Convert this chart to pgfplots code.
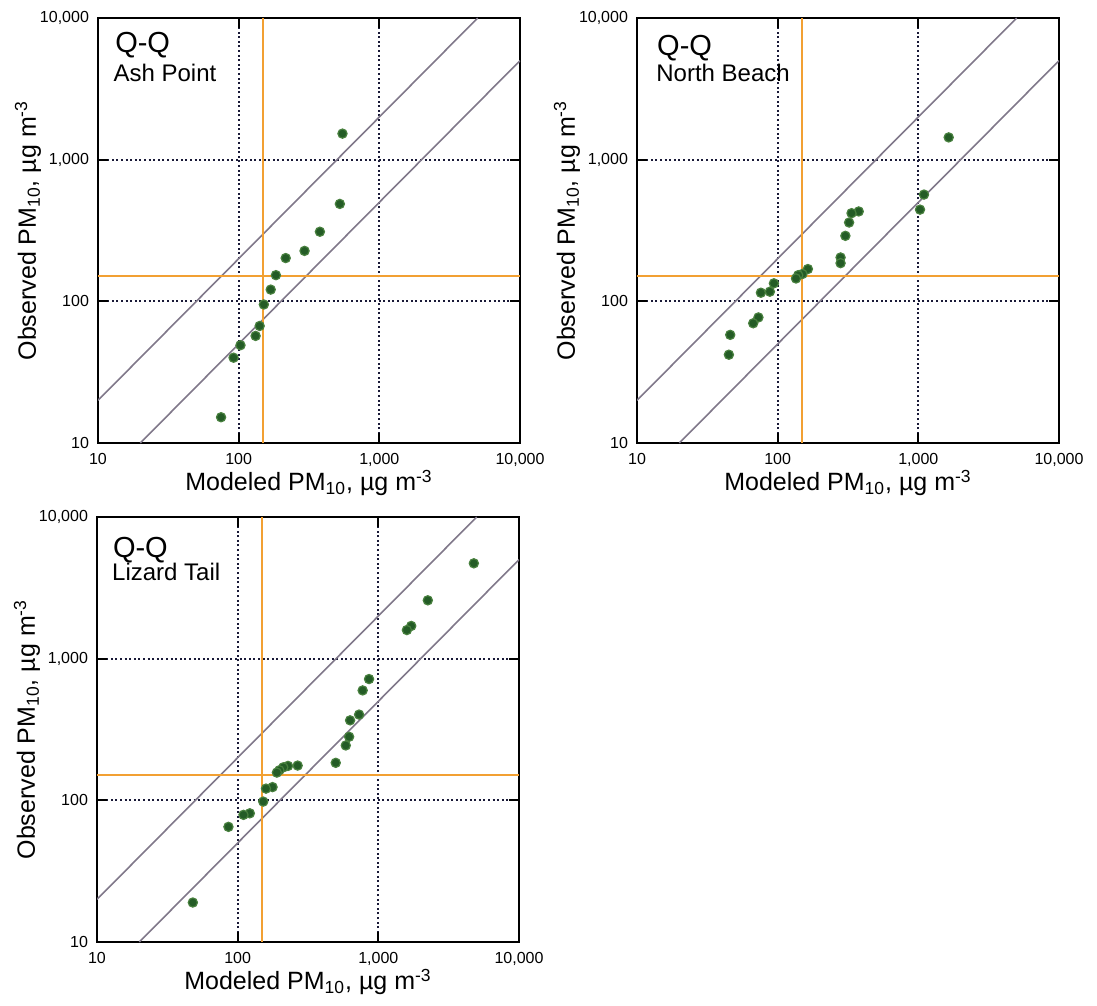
\documentclass[border=0pt]{standalone}
\usepackage{fontspec}
\setmainfont{Liberation Sans}
\usepackage{pgfplots}
\usepackage{pgfplotstable}
\pgfplotsset{compat=1.18}
\definecolor{ptfill}{RGB}{36,92,38}
\definecolor{ptdraw}{RGB}{72,128,62}
\definecolor{diagc}{RGB}{128,120,138}
\definecolor{orng}{RGB}{242,160,50}
\definecolor{gridc}{RGB}{25,25,55}

\pgfplotstableread{
x y
547 1527
524 487
378 310
294 227
216 202
184 153
169 121
151 95
141 67
132 57
103 49
92 40
75 15.2
}\ash

\pgfplotstableread{
x y
1644 1436
1097 567
1028 444
377 431
335 419
322 360
303 290
280 204
280 186
164 169
150 156
140 153
135 145
94 134
88 117
76 115
73 77
67 70
46 58
45 42
}\north

\pgfplotstableread{
x y
4775 4710
2248 2581
1714 1702
1596 1592
859 718
774 597
730 403
630 367
620 281
587 244
498 184
267 176
228 175
211 171
198 163
190 157
177 124
159 121
152 98
122 81
110 79
86 65
48 19
}\lizard

\begin{document}
\begin{tikzpicture}
\path[use as bounding box] (0,0) rectangle (548.5pt,-503pt);

\begin{axis}[at={(49pt,-221.5pt)}, anchor=south west,
  xmode=log, ymode=log, xmin=10, xmax=10000, ymin=10, ymax=10000,
  width=211pt, height=212.5pt, scale only axis,
  xtick={10,100,1000,10000}, ytick={10,100,1000,10000},
  xticklabels={10,100,{1,000},{10,000}}, yticklabels={10,100,{1,000},{10,000}},
  xminorticks=false, yminorticks=false,
  xmajorgrids, ymajorgrids,
  major grid style={gridc, line width=1pt, dash pattern=on 1pt off 1.3pt},
  major tick length=5pt, tick style={black, line width=1pt},
  axis line style={black, line width=1pt},
  tick label style={font=\fontsize{8}{9}\selectfont},
  xticklabel style={yshift=-1.5pt}, yticklabel style={xshift=-1pt},
  label style={font=\fontsize{12.5}{14}\selectfont},
  xlabel={Modeled PM\textsubscript{10}, µg m\textsuperscript{-3}},
  ylabel={Observed PM\textsubscript{10}, µg m\textsuperscript{-3}},
  xlabel style={at={(axis description cs:0.5,-0.094)}, anchor=center},
  ylabel style={at={(axis description cs:-0.166,0.5)}, anchor=center}]
\addplot[diagc, line width=0.8pt, mark=none] coordinates {(10,20) (5000,10000)};
\addplot[diagc, line width=0.8pt, mark=none] coordinates {(20,10) (10000,5000)};
\addplot[orng, line width=1pt, mark=none] coordinates {(150,10) (150,10000)};
\addplot[orng, line width=1pt, mark=none] coordinates {(10,150) (10000,150)};
\addplot[only marks, mark=*, mark size=2.3pt, mark options={fill=ptfill, draw=ptdraw, line width=0.6pt}] table[x=x,y=y] {\ash};
\node[anchor=north west, inner sep=0, font=\fontsize{14.5}{16}\selectfont] at (rel axis cs:0.04,0.967) {Q-Q};
\node[anchor=north west, inner sep=0, font=\fontsize{12}{14}\selectfont] at (rel axis cs:0.036,0.892) {Ash Point};
\end{axis}

\begin{axis}[at={(318.5pt,-221.5pt)}, anchor=south west,
  xmode=log, ymode=log, xmin=10, xmax=10000, ymin=10, ymax=10000,
  width=211pt, height=212.5pt, scale only axis,
  xtick={10,100,1000,10000}, ytick={10,100,1000,10000},
  xticklabels={10,100,{1,000},{10,000}}, yticklabels={10,100,{1,000},{10,000}},
  xminorticks=false, yminorticks=false,
  xmajorgrids, ymajorgrids,
  major grid style={gridc, line width=1pt, dash pattern=on 1pt off 1.3pt},
  major tick length=5pt, tick style={black, line width=1pt},
  axis line style={black, line width=1pt},
  tick label style={font=\fontsize{8}{9}\selectfont},
  xticklabel style={yshift=-1.5pt}, yticklabel style={xshift=-1pt},
  label style={font=\fontsize{12.5}{14}\selectfont},
  xlabel={Modeled PM\textsubscript{10}, µg m\textsuperscript{-3}},
  ylabel={Observed PM\textsubscript{10}, µg m\textsuperscript{-3}},
  xlabel style={at={(axis description cs:0.5,-0.094)}, anchor=center},
  ylabel style={at={(axis description cs:-0.166,0.5)}, anchor=center}]
\addplot[diagc, line width=0.8pt, mark=none] coordinates {(10,20) (5000,10000)};
\addplot[diagc, line width=0.8pt, mark=none] coordinates {(20,10) (10000,5000)};
\addplot[orng, line width=1pt, mark=none] coordinates {(150,10) (150,10000)};
\addplot[orng, line width=1pt, mark=none] coordinates {(10,150) (10000,150)};
\addplot[only marks, mark=*, mark size=2.3pt, mark options={fill=ptfill, draw=ptdraw, line width=0.6pt}] table[x=x,y=y] {\north};
\node[anchor=north west, inner sep=0, font=\fontsize{14.5}{16}\selectfont] at (rel axis cs:0.047,0.96) {Q-Q};
\node[anchor=north west, inner sep=0, font=\fontsize{12}{14}\selectfont] at (rel axis cs:0.045,0.892) {North Beach};
\end{axis}

\begin{axis}[at={(48.5pt,-471pt)}, anchor=south west,
  xmode=log, ymode=log, xmin=10, xmax=10000, ymin=10, ymax=10000,
  width=211pt, height=212.5pt, scale only axis,
  xtick={10,100,1000,10000}, ytick={10,100,1000,10000},
  xticklabels={10,100,{1,000},{10,000}}, yticklabels={10,100,{1,000},{10,000}},
  xminorticks=false, yminorticks=false,
  xmajorgrids, ymajorgrids,
  major grid style={gridc, line width=1pt, dash pattern=on 1pt off 1.3pt},
  major tick length=5pt, tick style={black, line width=1pt},
  axis line style={black, line width=1pt},
  tick label style={font=\fontsize{8}{9}\selectfont},
  xticklabel style={yshift=-1.5pt}, yticklabel style={xshift=-1pt},
  label style={font=\fontsize{12.5}{14}\selectfont},
  xlabel={Modeled PM\textsubscript{10}, µg m\textsuperscript{-3}},
  ylabel={Observed PM\textsubscript{10}, µg m\textsuperscript{-3}},
  xlabel style={at={(axis description cs:0.5,-0.094)}, anchor=center},
  ylabel style={at={(axis description cs:-0.166,0.5)}, anchor=center}]
\addplot[diagc, line width=0.8pt, mark=none] coordinates {(10,20) (5000,10000)};
\addplot[diagc, line width=0.8pt, mark=none] coordinates {(20,10) (10000,5000)};
\addplot[orng, line width=1pt, mark=none] coordinates {(150,10) (150,10000)};
\addplot[orng, line width=1pt, mark=none] coordinates {(10,150) (10000,150)};
\addplot[only marks, mark=*, mark size=2.3pt, mark options={fill=ptfill, draw=ptdraw, line width=0.6pt}] table[x=x,y=y] {\lizard};
\node[anchor=north west, inner sep=0, font=\fontsize{14.5}{16}\selectfont] at (rel axis cs:0.037,0.953) {Q-Q};
\node[anchor=north west, inner sep=0, font=\fontsize{12}{14}\selectfont] at (rel axis cs:0.035,0.892) {Lizard Tail};
\end{axis}
\end{tikzpicture}
\end{document}
